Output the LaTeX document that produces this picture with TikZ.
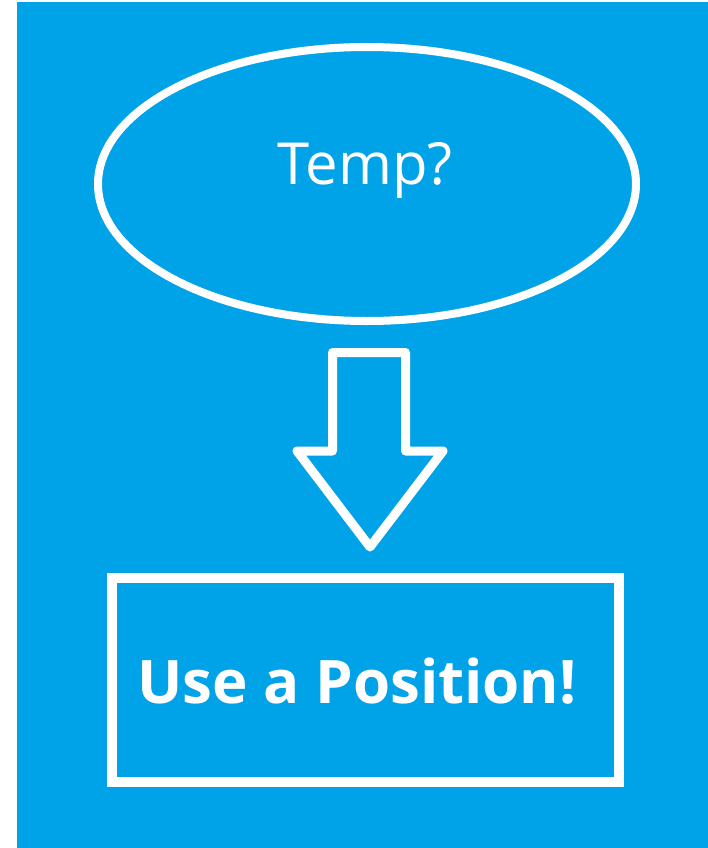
\documentclass[tikz,border=0pt]{standalone}
\usepackage{fontspec}
\setmainfont{Open Sans}
\usepackage{tikz}
\usetikzlibrary{shapes.geometric}
\usepackage{xcolor}
\definecolor{paintblue}{RGB}{0,162,232}

\begin{document}
\begin{tikzpicture}[x=1pt,y=-1pt]
  \useasboundingbox (0,0) rectangle (708,848); \fill[white] (0,0) rectangle (708,848); \fill[paintblue] (17,2) rectangle (708,848);
  \node[ellipse, draw=white, line width=8pt, minimum width=538pt, minimum height=274pt, label={[inner sep=0pt, text=white, font=\fontsize{58}{62}\selectfont, xshift=-2pt, yshift=14pt]center:Temp?}] (temp) at (367,184) {};
  \node[rectangle, draw=white, line width=10pt, minimum width=507pt, minimum height=204pt, label={[inner sep=0pt, text=white, font=\fontsize{60}{64}\bfseries\selectfont, xshift=-8pt, yshift=-1pt]center:Use a Position!}] (pos) at (365,680) {};
  \draw[white, line width=9pt, line join=round] (332.5,352.5) -- (405.5,352.5) -- (405.5,451) -- (443,451) -- (370,547) -- (297,451) -- (332.5,451) -- cycle;
\end{tikzpicture}
\end{document}
